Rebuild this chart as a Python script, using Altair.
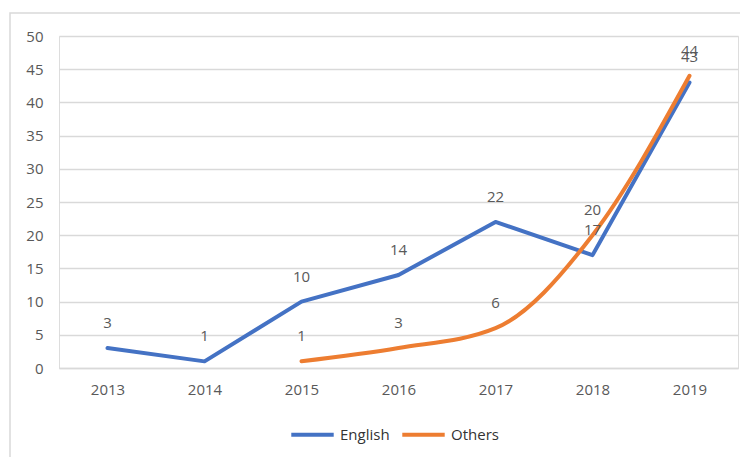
import altair as alt
import pandas as pd

years = ["2013", "2014", "2015", "2016", "2017", "2018", "2019"]
english = [3, 1, 10, 14, 22, 17, 43]
others = [None, None, 1, 3, 6, 20, 44]
series_names = ["English", "Others"]
colors = ["#4472C4", "#ED7D31"]
y_ticks = [0, 5, 10, 15, 20, 25, 30, 35, 40, 45, 50]

rows = []
for name, vals in zip(series_names, [english, others]):
    for y, v in zip(years, vals):
        if v is not None:
            rows.append({"year": y, "value": v, "series": name})
df = pd.DataFrame(rows)

FONT = "Open Sans"
GREY = "#595959"

x = alt.X("year:O", sort=years, title=None,
          scale=alt.Scale(type="point", padding=0.5),
          axis=alt.Axis(labelAngle=0, ticks=False, domain=True, domainColor="#d9d9d9",
                        domainWidth=1.3, labelPadding=14, labelFontSize=15,
                        labelColor=GREY, labelFont=FONT))
y = alt.Y("value:Q", title=None,
          scale=alt.Scale(domain=[0, 50], nice=False),
          axis=alt.Axis(values=y_ticks, ticks=False, domain=False, labelOverlap=False,
                        gridColor="#d9d9d9", gridWidth=1.3, labelPadding=16,
                        labelFontSize=15, labelColor=GREY, labelFont=FONT))
color = alt.Color("series:N", sort=series_names,
                  scale=alt.Scale(domain=series_names, range=colors),
                  legend=alt.Legend(title=None, orient="none", legendX=230, legendY=375,
                                    direction="horizontal", symbolType="stroke",
                                    symbolSize=1800, symbolStrokeWidth=4,
                                    labelFontSize=15, labelColor="#333333", labelFont=FONT,
                                    columnPadding=4, labelOffset=4))

base = alt.Chart(df)

border = alt.Chart(pd.DataFrame({"k": [0]})).mark_rect(
    filled=False, stroke="#d9d9d9", strokeWidth=1.5, clip=False
).encode(x=alt.value(-49), x2=alt.value(686), y=alt.value(-23), y2=alt.value(440))

eng_line = base.transform_filter(alt.datum.series == "English").mark_line(
    strokeWidth=4, interpolate="linear", strokeCap="round", strokeJoin="round"
).encode(x=x, y=y, color=color)
oth_line = base.transform_filter(alt.datum.series == "Others").mark_line(
    strokeWidth=4, interpolate="monotone", strokeCap="round"
).encode(x=x, y=y, color=color)

labels = base.mark_text(dy=-25, fontSize=15, color=GREY, font=FONT).encode(
    x=x, y=y, text="value:Q")

chart = alt.layer(border, eng_line, oth_line, labels).properties(
    width=679, height=332,
    autosize=alt.AutoSizeParams(type="none"),
    padding={"left": 51, "top": 28, "right": 2, "bottom": 110},
).configure_view(stroke=None).configure(background="white")

chart.save("out.html", embed_options={"renderer": "svg", "actions": False})
